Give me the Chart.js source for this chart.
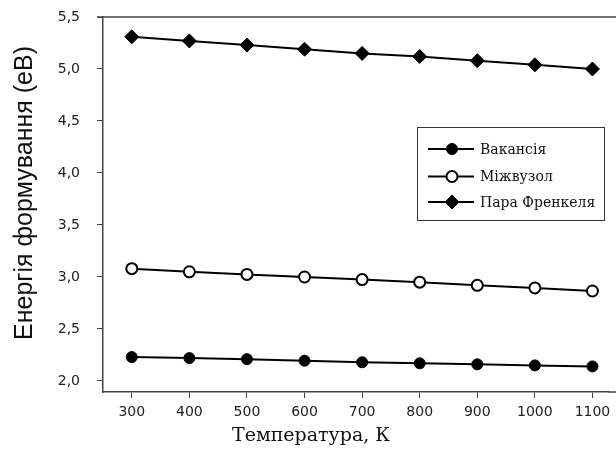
<!DOCTYPE html>
<html>
<head>
<meta charset="utf-8">
<script src="https://cdn.jsdelivr.net/npm/chart.js@4/dist/chart.umd.min.js"></script>
<style>
  html, body { margin: 0; padding: 0; background: #ffffff; }
  #wrap { width: 616px; height: 450px; position: relative; }
</style>
</head>
<body>
<div id="wrap"><canvas id="c" width="616" height="450"></canvas></div>
<script>
// Temperature, K
const temperatures = [300, 400, 500, 600, 700, 800, 900, 1000, 1100];
// Formation energies, eV
const vacancy      = [2.23, 2.22, 2.21, 2.195, 2.18, 2.17, 2.16, 2.15, 2.14];
const interstitial = [3.08, 3.05, 3.025, 3.0, 2.975, 2.95, 2.92, 2.895, 2.865];
const frenkelPair  = [5.31, 5.27, 5.23, 5.19, 5.15, 5.12, 5.08, 5.04, 5.00];
const seriesNames  = ['Вакансія', 'Міжвузол', 'Пара Френкеля'];
const yTickValues  = [2.0, 2.5, 3.0, 3.5, 4.0, 4.5, 5.0, 5.5];
const xTickValues  = [300, 400, 500, 600, 700, 800, 900, 1000, 1100];
const yTitle = 'Енергія формування (еВ)';
const xTitle = 'Температура, К';

const toPoints = vals => temperatures.map((t, i) => ({ x: t, y: vals[i] }));

const styles = [
  { pointStyle: 'circle',  pointRadius: 5.5, pointBackgroundColor: '#000', pointBorderWidth: 1 },
  { pointStyle: 'circle',  pointRadius: 5.5, pointBackgroundColor: '#fff', pointBorderWidth: 2 },
  { pointStyle: 'rectRot', pointRadius: 7,   pointBackgroundColor: '#000', pointBorderWidth: 1 }
];

const datasets = [vacancy, interstitial, frenkelPair].map((vals, i) => Object.assign({
  label: seriesNames[i],
  data: toPoints(vals),
  borderColor: '#000',
  borderWidth: 2,
  pointBorderColor: '#000',
  pointHoverRadius: 6,
  tension: 0
}, styles[i]));

const AXIS = '#444';

function drawMarker(ctx, st, x, y) {
  ctx.save();
  ctx.fillStyle = st.pointBackgroundColor;
  ctx.strokeStyle = '#000';
  ctx.lineWidth = st.pointBorderWidth;
  ctx.beginPath();
  const r = st.pointRadius;
  if (st.pointStyle === 'circle') {
    ctx.arc(x, y, r, 0, Math.PI * 2);
  } else {
    ctx.moveTo(x - r, y); ctx.lineTo(x, y - r); ctx.lineTo(x + r, y); ctx.lineTo(x, y + r);
    ctx.closePath();
  }
  ctx.fill();
  ctx.stroke();
  ctx.restore();
}

// Frame lines running to the right edge, axis titles and the boxed legend
const decorations = {
  id: 'decorations',
  afterDraw(chart) {
    const ctx = chart.ctx;
    const a = chart.chartArea;
    ctx.save();
    ctx.strokeStyle = AXIS;
    ctx.lineWidth = 1.5;
    ctx.beginPath();
    ctx.moveTo(a.left - 6, a.top);
    ctx.lineTo(chart.width, a.top);
    ctx.moveTo(a.right, a.bottom);
    ctx.lineTo(chart.width, a.bottom);
    ctx.stroke();

    // y title
    ctx.fillStyle = '#111';
    ctx.font = '25px "Liberation Sans", Arial, sans-serif';
    ctx.textAlign = 'center';
    ctx.textBaseline = 'middle';
    ctx.translate(25, 193);
    ctx.rotate(-Math.PI / 2);
    ctx.fillText(yTitle, 0, 0);
    ctx.restore();

    // x title
    ctx.save();
    ctx.fillStyle = '#111';
    ctx.font = '19px "DejaVu Serif", serif';
    ctx.textAlign = 'center';
    ctx.textBaseline = 'middle';
    ctx.fillText(xTitle, 311, 436);
    ctx.restore();

    // legend
    ctx.save();
    const bx = 417.5, by = 127.5, bw = 187, bh = 93;
    ctx.fillStyle = '#fff';
    ctx.fillRect(bx, by, bw, bh);
    ctx.strokeStyle = '#333';
    ctx.lineWidth = 1;
    ctx.strokeRect(bx, by, bw, bh);
    const rows = [149, 176.5, 202];
    ctx.font = '14px "DejaVu Serif", serif';
    ctx.textAlign = 'left';
    ctx.textBaseline = 'middle';
    rows.forEach((ry, i) => {
      ctx.strokeStyle = '#000';
      ctx.lineWidth = 2;
      ctx.beginPath();
      ctx.moveTo(428, ry);
      ctx.lineTo(474, ry);
      ctx.stroke();
      drawMarker(ctx, styles[i], 452, ry);
      ctx.fillStyle = '#111';
      ctx.fillText(seriesNames[i], 480, ry + 1);
    });
    ctx.restore();
  }
};

new Chart(document.getElementById('c'), {
  type: 'line',
  data: { datasets },
  options: {
    responsive: false,
    animation: false,
    layout: { padding: { top: 17, right: 2, left: 0, bottom: 0 } },
    plugins: { legend: { display: false }, tooltip: { enabled: false } },
    scales: {
      x: {
        type: 'linear',
        min: 250,
        max: 1127,
        afterBuildTicks: s => { s.ticks = xTickValues.map(v => ({ value: v })); },
        afterFit: s => { s.height = 58; s.paddingLeft = 0; s.paddingRight = 0; },
        grid: { drawOnChartArea: false, drawTicks: true, tickLength: 6, color: AXIS, lineWidth: 1 },
        border: { display: true, color: AXIS, width: 1.5 },
        ticks: {
          font: { family: '"DejaVu Sans", sans-serif', size: 14 },
          color: '#222',
          padding: 6,
          maxRotation: 0,
          callback: v => String(v)
        }
      },
      y: {
        type: 'linear',
        min: 1.894,
        max: 5.5,
        afterBuildTicks: s => { s.ticks = yTickValues.map(v => ({ value: v })); },
        afterFit: s => { s.width = 103; s.paddingTop = 0; s.paddingBottom = 0; },
        grid: { drawOnChartArea: false, drawTicks: true, tickLength: 6, color: AXIS, lineWidth: 1 },
        border: { display: true, color: AXIS, width: 1.5 },
        ticks: {
          font: { family: '"DejaVu Sans", sans-serif', size: 14 },
          color: '#222',
          padding: 17,
          callback: v => v.toFixed(1).replace('.', ',')
        }
      }
    }
  },
  plugins: [decorations]
});
</script>
</body>
</html>
